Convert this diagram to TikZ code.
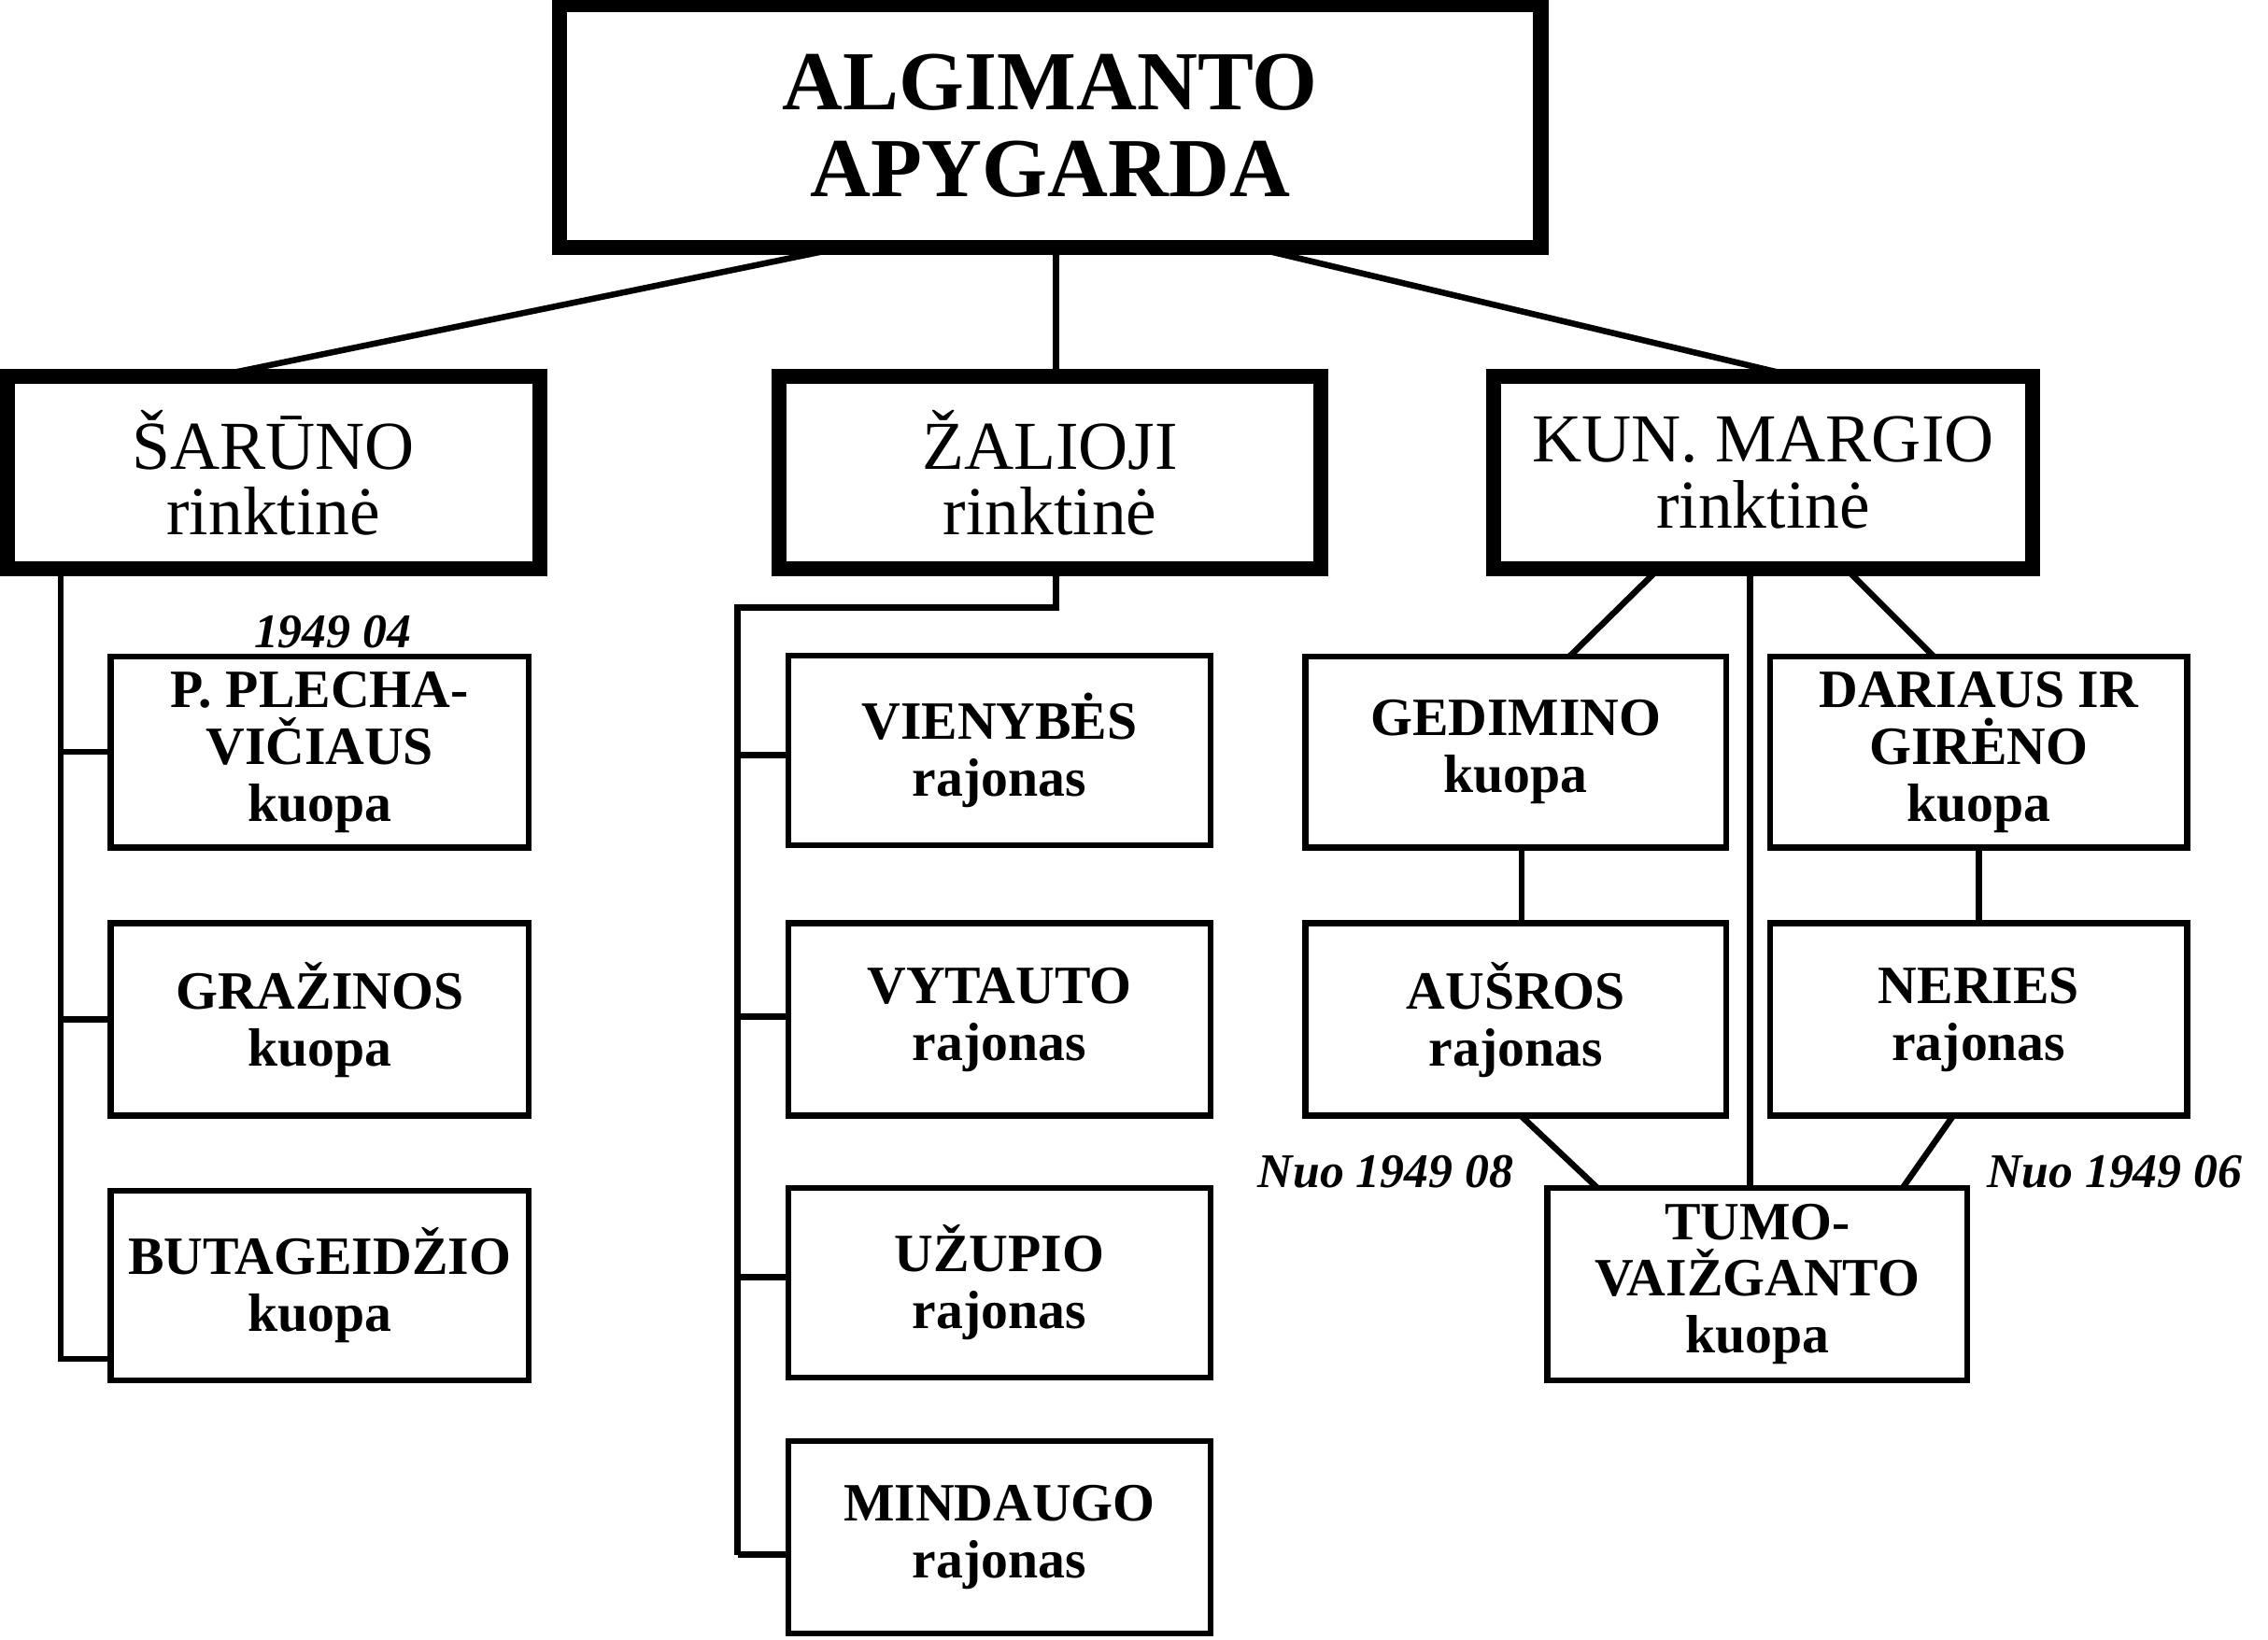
\documentclass[tikz,border=0pt]{standalone}
\usepackage{fontspec}
\setmainfont{Liberation Serif}
\usetikzlibrary{positioning}
\tikzset{
	unit/.style={draw, line width=1.2pt, align=center, inner sep=0pt, font=\fontsize{10.6}{11.2}\selectfont\bfseries},
	brig/.style={draw, line width=2.4pt, align=center, inner sep=0pt, font=\fontsize{13.5}{13}\selectfont},
	rim/.style={line width=0.8pt},
	link/.style={line width=1.2pt},
	date/.style={font=\fontsize{9.5}{10}\selectfont\bfseries\itshape}
}
\begin{document}
\begin{tikzpicture}[x=0.01cm, y=-0.01cm]
	\useasboundingbox (0,0) rectangle (1568,1134);
	% top
	\node[brig, minimum width=6.8cm, minimum height=1.7cm, font=\fontsize{16.5}{17}\selectfont\bfseries] (apyg) at (726,87) {ALGIMANTO\\APYGARDA};
	% rinktines
	\node[brig, minimum width=3.7cm, minimum height=1.35cm] (sar) at (189,327) {ŠARŪNO\\rinktinė};
	\node[brig, minimum width=3.76cm, minimum height=1.35cm] (zal) at (726,327) {ŽALIOJI\\rinktinė};
	\node[brig, minimum width=3.74cm, minimum height=1.35cm] (mar) at (1219,327) {KUN. MARGIO\\rinktinė};
	% inner rims
	\foreach \n in {apyg,sar,zal,mar}
		\draw[rim] ([shift={(9,9)}]\n.north west) rectangle ([shift={(-9,-9)}]\n.south east);
	% Sarunas
	\node[unit, minimum width=2.89cm, minimum height=1.32cm] (plech) at (221,520) {P. PLECHA-\\VIČIAUS\\kuopa};
	\node[unit, minimum width=2.89cm, minimum height=1.33cm] (graz) at (221,705) {GRAŽINOS\\kuopa};
	\node[unit, minimum width=2.89cm, minimum height=1.31cm] (butag) at (221,889) {BUTAGEIDŽIO\\kuopa};
	% Zalioji
	\node[unit, minimum width=2.92cm, minimum height=1.31cm] (vien) at (691,519) {VIENYBĖS\\rajonas};
	\node[unit, minimum width=2.92cm, minimum height=1.33cm] (vyt) at (691,705) {VYTAUTO\\rajonas};
	\node[unit, minimum width=2.92cm, minimum height=1.31cm] (uzup) at (691,887) {UŽUPIO\\rajonas};
	\node[unit, minimum width=2.92cm, minimum height=1.33cm] (mind) at (691,1063) {MINDAUGO\\rajonas};
	% Margis
	\node[unit, minimum width=2.91cm, minimum height=1.32cm] (gedim) at (1048,520) {GEDIMINO\\kuopa};
	\node[unit, minimum width=2.88cm, minimum height=1.32cm] (dar) at (1368,520) {DARIAUS IR\\GIRĖNO\\kuopa};
	\node[unit, minimum width=2.91cm, minimum height=1.33cm] (ausr) at (1048,705) {AUŠROS\\rajonas};
	\node[unit, minimum width=2.88cm, minimum height=1.33cm] (ner) at (1368,705) {NERIES\\rajonas};
	\node[unit, minimum width=2.9cm, minimum height=1.33cm] (tumo) at (1215,888) {TUMO-\\VAIŽGANTO\\kuopa};
	% dates
	\node[date] (d1) at (230,437) {1949 04};
	\node[date] (d2) at (958,810) {Nuo 1949 08};
	\node[date] (d3) at (1462,810) {Nuo 1949 06};
	% top links
	\draw[link] (578,172) -- (150,260);
	\draw[link] (730,172) -- (730,260);
	\draw[link] (870,172) -- (1240,260);
	% Sarunas links
	\coordinate (sbot) at (42,395);
	\draw[link] (sbot) |- (plech.west);
	\draw[link] (sbot) |- (graz.west);
	\draw[link] (sbot) |- ([yshift=0.17cm]butag.south west);
	% Zalioji links
	\coordinate (zbot) at (730,395);
	\coordinate (zbend) at (510,420);
	\draw[link] (zbot) |- (zbend) -- (510,1075);
	\draw[link] (510,522) -- (vien.west |- 0,522);
	\draw[link] (510,703) -- (vyt.west |- 0,703);
	\draw[link] (510,883) -- (uzup.west |- 0,883);
	\draw[link] (510,1075) -- (mind.west |- 0,1075);
	% Margis links
	\draw[link] (1145,395) -- (1085,454);
	\draw[link] (1278,395) -- (1337,454);
	\draw[link] (1210,395) -- (1210,822);
	\draw[link] (1052,586) -- (1052,639);
	\draw[link] (dar.south) -- (ner.north);
	\draw[link] (1052,772) -- (1105,822);
	\draw[link] (1350,772) -- (1315,822);
\end{tikzpicture}
\end{document}
